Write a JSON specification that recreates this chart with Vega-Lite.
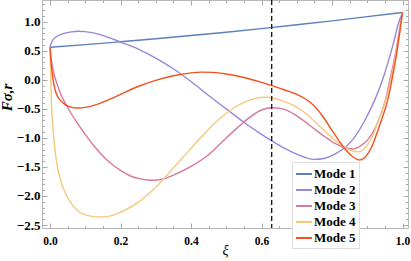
{
  "$schema": "https://vega.github.io/schema/vega-lite/v6.json",
  "width": 366,
  "height": 228,
  "autosize": {"type": "none"},
  "padding": {"left": 42, "top": 0, "right": 3, "bottom": 33},
  "background": "white",
  "config": {
    "view": {"stroke": "#b8b8b8", "strokeWidth": 1},
    "axis": {
      "domain": false,
      "grid": false,
      "tickColor": "#a8a8a8",
      "tickWidth": 1,
      "labelFont": "Liberation Serif",
      "labelFontWeight": "bold",
      "labelFontSize": 11.5,
      "labelColor": "black",
      "labelOverlap": false,
      "titleFont": "Liberation Serif",
      "titleFontStyle": "italic",
      "titleColor": "black"
    }
  },
  "data": {
    "values": [
      {"m": "Mode 1", "x": 0, "y": 0.56}, {"m": "Mode 1", "x": 0.1, "y": 0.605}, {"m": "Mode 1", "x": 0.2, "y": 0.655}, {"m": "Mode 1", "x": 0.3, "y": 0.707}, {"m": "Mode 1", "x": 0.4, "y": 0.762}, {"m": "Mode 1", "x": 0.5, "y": 0.82}, {"m": "Mode 1", "x": 0.6, "y": 0.882}, {"m": "Mode 1", "x": 0.7, "y": 0.947}, {"m": "Mode 1", "x": 0.8, "y": 1.015}, {"m": "Mode 1", "x": 0.9, "y": 1.087}, {"m": "Mode 1", "x": 1.0, "y": 1.16},

      {"m": "Mode 2", "x": 0, "y": 0.56}, {"m": "Mode 2", "x": 0.004, "y": 0.64}, {"m": "Mode 2", "x": 0.01, "y": 0.7}, {"m": "Mode 2", "x": 0.02, "y": 0.75}, {"m": "Mode 2", "x": 0.04, "y": 0.8}, {"m": "Mode 2", "x": 0.06, "y": 0.825}, {"m": "Mode 2", "x": 0.08, "y": 0.835}, {"m": "Mode 2", "x": 0.1, "y": 0.83}, {"m": "Mode 2", "x": 0.13, "y": 0.8}, {"m": "Mode 2", "x": 0.16, "y": 0.745}, {"m": "Mode 2", "x": 0.2, "y": 0.65}, {"m": "Mode 2", "x": 0.25, "y": 0.53}, {"m": "Mode 2", "x": 0.3, "y": 0.375}, {"m": "Mode 2", "x": 0.35, "y": 0.19}, {"m": "Mode 2", "x": 0.4, "y": -0.03}, {"m": "Mode 2", "x": 0.45, "y": -0.27}, {"m": "Mode 2", "x": 0.5, "y": -0.5}, {"m": "Mode 2", "x": 0.55, "y": -0.73}, {"m": "Mode 2", "x": 0.6, "y": -0.94}, {"m": "Mode 2", "x": 0.629, "y": -1.05}, {"m": "Mode 2", "x": 0.666, "y": -1.18}, {"m": "Mode 2", "x": 0.7, "y": -1.28}, {"m": "Mode 2", "x": 0.75, "y": -1.37}, {"m": "Mode 2", "x": 0.78, "y": -1.35}, {"m": "Mode 2", "x": 0.808, "y": -1.28}, {"m": "Mode 2", "x": 0.836, "y": -1.17}, {"m": "Mode 2", "x": 0.86, "y": -1.02}, {"m": "Mode 2", "x": 0.893, "y": -0.7}, {"m": "Mode 2", "x": 0.921, "y": -0.35}, {"m": "Mode 2", "x": 0.94, "y": -0.06}, {"m": "Mode 2", "x": 0.959, "y": 0.3}, {"m": "Mode 2", "x": 0.975, "y": 0.65}, {"m": "Mode 2", "x": 0.988, "y": 0.96}, {"m": "Mode 2", "x": 1.0, "y": 1.16},

      {"m": "Mode 3", "x": 0, "y": 0.56}, {"m": "Mode 3", "x": 0.004, "y": 0.34}, {"m": "Mode 3", "x": 0.011, "y": 0.11}, {"m": "Mode 3", "x": 0.02, "y": -0.07}, {"m": "Mode 3", "x": 0.03, "y": -0.24}, {"m": "Mode 3", "x": 0.044, "y": -0.41}, {"m": "Mode 3", "x": 0.06, "y": -0.58}, {"m": "Mode 3", "x": 0.078, "y": -0.75}, {"m": "Mode 3", "x": 0.1, "y": -0.94}, {"m": "Mode 3", "x": 0.125, "y": -1.14}, {"m": "Mode 3", "x": 0.15, "y": -1.31}, {"m": "Mode 3", "x": 0.175, "y": -1.45}, {"m": "Mode 3", "x": 0.2, "y": -1.56}, {"m": "Mode 3", "x": 0.23, "y": -1.66}, {"m": "Mode 3", "x": 0.26, "y": -1.71}, {"m": "Mode 3", "x": 0.29, "y": -1.73}, {"m": "Mode 3", "x": 0.32, "y": -1.71}, {"m": "Mode 3", "x": 0.35, "y": -1.64}, {"m": "Mode 3", "x": 0.4, "y": -1.49}, {"m": "Mode 3", "x": 0.45, "y": -1.29}, {"m": "Mode 3", "x": 0.5, "y": -1.0}, {"m": "Mode 3", "x": 0.54, "y": -0.78}, {"m": "Mode 3", "x": 0.57, "y": -0.63}, {"m": "Mode 3", "x": 0.6, "y": -0.52}, {"m": "Mode 3", "x": 0.629, "y": -0.48}, {"m": "Mode 3", "x": 0.66, "y": -0.5}, {"m": "Mode 3", "x": 0.7, "y": -0.62}, {"m": "Mode 3", "x": 0.74, "y": -0.8}, {"m": "Mode 3", "x": 0.78, "y": -0.98}, {"m": "Mode 3", "x": 0.81, "y": -1.1}, {"m": "Mode 3", "x": 0.836, "y": -1.17}, {"m": "Mode 3", "x": 0.86, "y": -1.19}, {"m": "Mode 3", "x": 0.88, "y": -1.14}, {"m": "Mode 3", "x": 0.903, "y": -1.02}, {"m": "Mode 3", "x": 0.925, "y": -0.8}, {"m": "Mode 3", "x": 0.95, "y": -0.38}, {"m": "Mode 3", "x": 0.965, "y": 0.02}, {"m": "Mode 3", "x": 0.98, "y": 0.45}, {"m": "Mode 3", "x": 0.992, "y": 0.88}, {"m": "Mode 3", "x": 1.0, "y": 1.16},

      {"m": "Mode 4", "x": 0, "y": 0.56}, {"m": "Mode 4", "x": 0.001, "y": 0.3}, {"m": "Mode 4", "x": 0.002, "y": 0.11}, {"m": "Mode 4", "x": 0.004, "y": -0.4}, {"m": "Mode 4", "x": 0.007, "y": -0.72}, {"m": "Mode 4", "x": 0.011, "y": -1.02}, {"m": "Mode 4", "x": 0.016, "y": -1.3}, {"m": "Mode 4", "x": 0.021, "y": -1.5}, {"m": "Mode 4", "x": 0.03, "y": -1.73}, {"m": "Mode 4", "x": 0.04, "y": -1.9}, {"m": "Mode 4", "x": 0.055, "y": -2.08}, {"m": "Mode 4", "x": 0.07, "y": -2.2}, {"m": "Mode 4", "x": 0.085, "y": -2.28}, {"m": "Mode 4", "x": 0.106, "y": -2.335}, {"m": "Mode 4", "x": 0.13, "y": -2.36}, {"m": "Mode 4", "x": 0.155, "y": -2.36}, {"m": "Mode 4", "x": 0.18, "y": -2.33}, {"m": "Mode 4", "x": 0.2, "y": -2.28}, {"m": "Mode 4", "x": 0.25, "y": -2.11}, {"m": "Mode 4", "x": 0.3, "y": -1.85}, {"m": "Mode 4", "x": 0.35, "y": -1.52}, {"m": "Mode 4", "x": 0.4, "y": -1.18}, {"m": "Mode 4", "x": 0.45, "y": -0.85}, {"m": "Mode 4", "x": 0.5, "y": -0.575}, {"m": "Mode 4", "x": 0.55, "y": -0.39}, {"m": "Mode 4", "x": 0.58, "y": -0.325}, {"m": "Mode 4", "x": 0.61, "y": -0.3}, {"m": "Mode 4", "x": 0.64, "y": -0.325}, {"m": "Mode 4", "x": 0.67, "y": -0.385}, {"m": "Mode 4", "x": 0.7, "y": -0.47}, {"m": "Mode 4", "x": 0.73, "y": -0.6}, {"m": "Mode 4", "x": 0.76, "y": -0.77}, {"m": "Mode 4", "x": 0.79, "y": -0.94}, {"m": "Mode 4", "x": 0.815, "y": -1.07}, {"m": "Mode 4", "x": 0.836, "y": -1.16}, {"m": "Mode 4", "x": 0.855, "y": -1.22}, {"m": "Mode 4", "x": 0.874, "y": -1.24}, {"m": "Mode 4", "x": 0.89, "y": -1.19}, {"m": "Mode 4", "x": 0.912, "y": -1.01}, {"m": "Mode 4", "x": 0.935, "y": -0.65}, {"m": "Mode 4", "x": 0.955, "y": -0.3}, {"m": "Mode 4", "x": 0.968, "y": 0.03}, {"m": "Mode 4", "x": 0.981, "y": 0.42}, {"m": "Mode 4", "x": 0.993, "y": 0.86}, {"m": "Mode 4", "x": 1.0, "y": 1.16},

      {"m": "Mode 5", "x": 0, "y": 0.56}, {"m": "Mode 5", "x": 0.003, "y": 0.3}, {"m": "Mode 5", "x": 0.007, "y": 0.08}, {"m": "Mode 5", "x": 0.011, "y": -0.08}, {"m": "Mode 5", "x": 0.018, "y": -0.24}, {"m": "Mode 5", "x": 0.026, "y": -0.33}, {"m": "Mode 5", "x": 0.044, "y": -0.43}, {"m": "Mode 5", "x": 0.06, "y": -0.47}, {"m": "Mode 5", "x": 0.078, "y": -0.485}, {"m": "Mode 5", "x": 0.1, "y": -0.475}, {"m": "Mode 5", "x": 0.125, "y": -0.44}, {"m": "Mode 5", "x": 0.15, "y": -0.385}, {"m": "Mode 5", "x": 0.175, "y": -0.32}, {"m": "Mode 5", "x": 0.2, "y": -0.25}, {"m": "Mode 5", "x": 0.25, "y": -0.115}, {"m": "Mode 5", "x": 0.3, "y": -0.01}, {"m": "Mode 5", "x": 0.35, "y": 0.07}, {"m": "Mode 5", "x": 0.4, "y": 0.12}, {"m": "Mode 5", "x": 0.43, "y": 0.133}, {"m": "Mode 5", "x": 0.46, "y": 0.128}, {"m": "Mode 5", "x": 0.5, "y": 0.1}, {"m": "Mode 5", "x": 0.55, "y": 0.04}, {"m": "Mode 5", "x": 0.6, "y": -0.045}, {"m": "Mode 5", "x": 0.629, "y": -0.1}, {"m": "Mode 5", "x": 0.666, "y": -0.175}, {"m": "Mode 5", "x": 0.7, "y": -0.25}, {"m": "Mode 5", "x": 0.725, "y": -0.33}, {"m": "Mode 5", "x": 0.75, "y": -0.45}, {"m": "Mode 5", "x": 0.775, "y": -0.64}, {"m": "Mode 5", "x": 0.8, "y": -0.87}, {"m": "Mode 5", "x": 0.82, "y": -1.05}, {"m": "Mode 5", "x": 0.838, "y": -1.2}, {"m": "Mode 5", "x": 0.858, "y": -1.32}, {"m": "Mode 5", "x": 0.879, "y": -1.38}, {"m": "Mode 5", "x": 0.897, "y": -1.31}, {"m": "Mode 5", "x": 0.912, "y": -1.16}, {"m": "Mode 5", "x": 0.925, "y": -0.96}, {"m": "Mode 5", "x": 0.94, "y": -0.7}, {"m": "Mode 5", "x": 0.958, "y": -0.35}, {"m": "Mode 5", "x": 0.97, "y": 0.0}, {"m": "Mode 5", "x": 0.982, "y": 0.4}, {"m": "Mode 5", "x": 0.993, "y": 0.85}, {"m": "Mode 5", "x": 1.0, "y": 1.16}
    ]
  },
  "layer": [
    {
      "mark": {"type": "line", "strokeWidth": 1.4, "interpolate": "monotone"},
      "encoding": {
        "x": {
          "field": "x", "type": "quantitative",
          "scale": {"domain": [-0.0227, 1.0156], "nice": false, "zero": false},
          "axis": {
            "orient": "bottom",
            "title": "ξ",
            "titleFontSize": 14,
            "titleFontWeight": "normal",
            "titleBaseline": "alphabetic",
            "titleY": 26,
            "values": [0, 0.05, 0.1, 0.15, 0.2, 0.25, 0.3, 0.35, 0.4, 0.45, 0.5, 0.55, 0.6, 0.65, 0.7, 0.75, 0.8, 0.85, 0.9, 0.95, 1.0],
            "labelExpr": "abs(datum.value*5 - round(datum.value*5)) < 0.001 ? format(datum.value, '.1f') : ''",
            "tickSize": {"condition": {"test": "abs(datum.value*5 - round(datum.value*5)) < 0.001", "value": -5}, "value": -2.5},
            "labelPadding": 12
          }
        },
        "y": {
          "field": "y", "type": "quantitative",
          "scale": {"domain": [-2.551, 1.374], "nice": false, "zero": false},
          "axis": {
            "orient": "left",
            "title": "Fσ,r",
            "titleFontSize": 15,
            "titleFontWeight": "bold",
            "titleY": 97,
            "titlePadding": 2,
            "values": [-2.5, -2.4, -2.3, -2.2, -2.1, -2.0, -1.9, -1.8, -1.7, -1.6, -1.5, -1.4, -1.3, -1.2, -1.1, -1.0, -0.9, -0.8, -0.7, -0.6, -0.5, -0.4, -0.3, -0.2, -0.1, 0.0, 0.1, 0.2, 0.3, 0.4, 0.5, 0.6, 0.7, 0.8, 0.9, 1.0, 1.1, 1.2, 1.3],
            "labelExpr": "abs(datum.value*2 - round(datum.value*2)) < 0.001 ? format(datum.value, '.1f') : ''",
            "tickSize": {"condition": {"test": "abs(datum.value*2 - round(datum.value*2)) < 0.001", "value": -5}, "value": -2.5},
            "labelFontSize": 13,
            "labelPadding": 7
          }
        },
        "color": {
          "field": "m", "type": "nominal",
          "scale": {"domain": ["Mode 1", "Mode 2", "Mode 3", "Mode 4", "Mode 5"], "range": ["#5b7fbd", "#9a86d6", "#d9789f", "#f6c87c", "#f2501c"]},
          "legend": {
            "orient": "none",
            "legendX": 250,
            "legendY": 162,
            "title": null,
            "fillColor": "white",
            "strokeColor": "#dcdcdc",
            "padding": 3,
            "symbolType": "stroke",
            "symbolStrokeWidth": 2,
            "symbolSize": 256,
            "labelFont": "Liberation Serif",
            "labelFontWeight": "bold",
            "labelFontSize": 13,
            "labelColor": "black",
            "labelOffset": 1,
            "labelExpr": "datum.label + '\u00a0\u00a0\u00a0\u00a0\u00a0\u00a0\u00a0\u00a0'",
            "rowPadding": -5
          }
        }
      }
    },
    {
      "data": {"values": [{"xi": 0.629}]},
      "mark": {"type": "rule", "color": "black", "strokeWidth": 1.2, "strokeDash": [5, 3]},
      "encoding": {
        "x": {
          "field": "xi", "type": "quantitative",
          "axis": {
            "orient": "top",
            "title": null,
            "labels": false,
            "values": [0, 0.05, 0.1, 0.15, 0.2, 0.25, 0.3, 0.35, 0.4, 0.45, 0.5, 0.55, 0.6, 0.65, 0.7, 0.75, 0.8, 0.85, 0.9, 0.95, 1.0],
            "tickSize": {"condition": {"test": "abs(datum.value*5 - round(datum.value*5)) < 0.001", "value": -5}, "value": -2.5}
          }
        }
      }
    },
    {
      "mark": {"type": "line", "strokeOpacity": 0},
      "encoding": {
        "x": {"field": "x", "type": "quantitative", "axis": null},
        "y": {
          "field": "y", "type": "quantitative",
          "axis": {
            "orient": "right",
            "title": null,
            "labels": false,
            "values": [-2.5, -2.4, -2.3, -2.2, -2.1, -2.0, -1.9, -1.8, -1.7, -1.6, -1.5, -1.4, -1.3, -1.2, -1.1, -1.0, -0.9, -0.8, -0.7, -0.6, -0.5, -0.4, -0.3, -0.2, -0.1, 0.0, 0.1, 0.2, 0.3, 0.4, 0.5, 0.6, 0.7, 0.8, 0.9, 1.0, 1.1, 1.2, 1.3],
            "tickSize": {"condition": {"test": "abs(datum.value*2 - round(datum.value*2)) < 0.001", "value": -5}, "value": -2.5}
          }
        },
        "detail": {"field": "m"}
      }
    }
  ],
  "resolve": {"axis": {"x": "independent", "y": "independent"}}
}
